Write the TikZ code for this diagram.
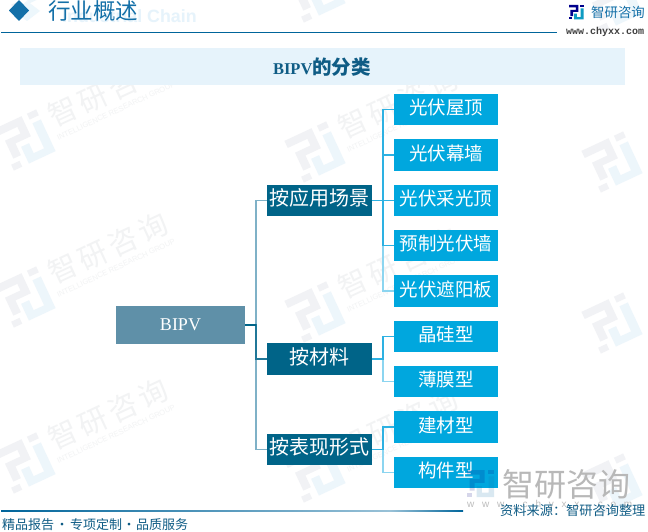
\documentclass[tikz,border=0pt]{standalone}
\usepackage{fontspec}
\setmainfont{Liberation Serif}
\newfontfamily\cjk{Noto Sans CJK SC}
\newfontfamily\lmono{Liberation Mono}
\newfontfamily\lsans{Liberation Sans}
\usetikzlibrary{shadings}
\definecolor{rootc}{HTML}{5F90A8}
\definecolor{midc}{HTML}{006488}
\definecolor{leafc}{HTML}{00A7DE}
\definecolor{bandc}{HTML}{E6F3FB}
\definecolor{linec}{HTML}{00659B}
\definecolor{headc}{HTML}{1470A8}
\definecolor{titlec}{HTML}{0F5C85}
\definecolor{trunkA}{HTML}{7FB1C7}
\definecolor{trunkB}{HTML}{2DB1E2}
\definecolor{trunkC}{HTML}{8CD5F0}
\definecolor{wmg}{HTML}{F1F2F5}
\definecolor{wmb}{HTML}{EDF6FB}
\definecolor{wmt}{HTML}{F2F3F4}
\tikzset{
 x=1pt,y=-1pt,
 rootbox/.style={fill=rootc,text=white,inner sep=0pt,minimum width=129pt,minimum height=38pt,font=\fontsize{18}{18}\selectfont},
 midbox/.style={fill=midc,text=white,inner sep=0pt,minimum width=105pt,minimum height=31.5pt,text height=15pt,text depth=4.4pt,font=\cjk\fontsize{20}{20}\selectfont},
 leafbox/.style={fill=leafc,text=white,inner sep=0pt,minimum width=104pt,minimum height=31.5pt,text height=15pt,text depth=4.6pt,font=\cjk\fontsize{18.5}{18.5}\selectfont},
 rootlink/.style={draw=trunkA,line width=1.6pt},
 rootdark/.style={draw=midc!75!trunkA,line width=1.6pt},
 leaflink/.style={draw=trunkB,line width=1.5pt},
 leaflight/.style={draw=trunkC,line width=1.5pt},
 wmtext/.style={text=wmt,inner sep=0pt,font=\cjk\fontsize{29}{29}\selectfont},
 wmsub/.style={text=wmt,inner sep=0pt,font=\lsans\fontsize{7.6}{7.6}\selectfont},
}
% brand mark drawn in a unit box
\newcommand{\brandmark}[2]{%
 \fill[#1] (0,0)--(.65,0)--(.65,.48)--(.28,.48)--(.28,.76)--(.1,.76)--(.1,.33)--(.47,.33)--(.47,.17)--(0,.17)--cycle;
 \fill[#1] (.78,0) rectangle (1,.14);
 \fill[#1] (0,.86) rectangle (.2,1);
 \fill[#2] (.8,.24)--(1,.24)--(1,1)--(.36,1)--(.36,.6)--(.55,.6)--(.55,.84)--(.8,.84)--cycle;
}
\newcommand{\wlogo}[2]{%
 \begin{scope}[shift={(#1,#2)},rotate=25]
  \begin{scope}[scale=46,shift={(-.5,-.5)}]\brandmark{wmg}{wmb}\end{scope}
 \end{scope}}
\newcommand{\wmark}[2]{%
 \wlogo{#1}{#2}
 \node[wmtext,rotate=25] at (#1+83,#2-49) {\makebox[128pt][s]{智\hfil 研\hfil 咨\hfil 询}};
 \node[wmsub,rotate=25] at (#1+91,#2-29) {INTELLIGENCE RESEARCH GROUP};
}
\begin{document}
\begin{tikzpicture}
\useasboundingbox (0,0) rectangle (648,532);
\fill[white] (0,0) rectangle (648,532);
% watermarks
\wlogo{25}{-20}\wlogo{315}{-8}\wlogo{612}{2}
\wmark{25}{140}\wmark{315}{152}\wlogo{612}{162}
\wmark{25}{297}\wmark{315}{312}\wlogo{612}{323}
\wmark{25}{463}\wmark{315}{472}\wlogo{612}{484}
% header
\fill[bandc!70!white] (27,1)--(40,11)--(27,21)--(14,11)--cycle;
\fill[headc] (19,0)--(29,10.5)--(19,21)--(9,10.5)--cycle;
\node[text=bandc,inner sep=0pt,anchor=west,font=\lsans\bfseries\fontsize{17.8}{17.8}\selectfont] (ghost) at (62,16) {Industrial Chain};
\node[text=headc,inner sep=0pt,anchor=west,font=\cjk\fontsize{22.5}{22.5}\selectfont] (head) at (48,10.5) {行业概述};
\draw[linec,line width=1pt] (1,32.5)--(557,32.5);
\begin{scope}[shift={(569,5)},scale=14.5]\brandmark{blue!55!black}{headc!70!cyan}\end{scope}
\node[text=headc,inner sep=0pt,anchor=west,font=\cjk\fontsize{13.4}{13.4}\selectfont] (brand) at (591,12.5) {智研咨询};
\node[text=black!75,inner sep=0pt,anchor=west,font=\lmono\bfseries\fontsize{10}{10}\selectfont] (web) at (566,32) {www.chyxx.com};
% title band
\fill[bandc] (20,48) rectangle (625,85);
\node[text=titlec,inner sep=0pt,font=\bfseries\fontsize{16.5}{16.5}\selectfont] (title) at (322,67) {BIPV{\cjk\fontsize{19.5}{19.5}\selectfont 的分类}};
% nodes
\node[rootbox] (root) at (180.5,325) {BIPV};
\node[midbox] (m1) at (319.5,200.5) {按应用场景};
\node[midbox] (m2) at (319.5,359) {按材料};
\node[midbox] (m3) at (319.5,449.5) {按表现形式};
\node[leafbox] (a1) at (446,109.5) {光伏屋顶};
\node[leafbox] (a2) at (446,155) {光伏幕墙};
\node[leafbox] (a3) at (446,200.5) {光伏采光顶};
\node[leafbox] (a4) at (446,245.5) {预制光伏墙};
\node[leafbox] (a5) at (446,291) {光伏遮阳板};
\node[leafbox] (b1) at (446,336.5) {晶硅型};
\node[leafbox] (b2) at (446,381.5) {薄膜型};
\node[leafbox] (c1) at (446,427) {建材型};
\node[leafbox] (c2) at (446,472.5) {构件型};
% connectors
\foreach \t in {m1,m3}{\draw[rootlink] (root.east) -- ++(11,0) |- (\t.west);}
\draw[rootdark] (root.east) -- ++(11,0) |- (m2.west);
\draw[midc,line width=1.6pt] (root.east) -- ++(11,0);
\foreach \t in {a5}{\draw[leaflight] (m1.east) -- ++(11,0) |- (\t.west);}
\foreach \t in {a1,a2,a3,a4}{\draw[leaflink] (m1.east) -- ++(11,0) |- (\t.west);}
\draw[leaflight] (m2.east) -- ++(11,0) |- (b2.west);
\draw[leaflink] (m2.east) -- ++(11,0) |- (b1.west);
\draw[leaflight] (m3.east) -- ++(11,0) |- (c2.west);
\draw[leaflink] (m3.east) -- ++(11,0) |- (c1.west);
% footer
\fill[left color=linec,right color=linec!40!white] (1,510) rectangle (390,511.2);
\fill[left color=linec!40!white,right color=linec] (390,510) rectangle (463,511.2);
\node[text=titlec,inner sep=0pt,anchor=west,font=\cjk\fontsize{13}{13}\selectfont] (foot) at (2,525) {精品报告\makebox[16pt]{·}专项定制\makebox[14pt]{·}品质服务};
\begin{scope}[shift={(467,470)},scale=27,opacity=.16]\brandmark{blue!50!black}{headc}\end{scope}
\node[text=black!28,inner sep=0pt,anchor=west,font=\cjk\fontsize{32}{32}\selectfont] (bigw) at (502,484) {智研咨询};
\node[text=black!26,inner sep=0pt,anchor=west,font=\lsans\fontsize{10}{10}\selectfont] (bigu) at (467,505) {\makebox[165pt][s]{w\hfil w\hfil w\hfil .\hfil c\hfil h\hfil y\hfil x\hfil x\hfil .\hfil c\hfil o\hfil m}};
\node[text=titlec,inner sep=0pt,anchor=west,font=\cjk\fontsize{13.2}{13.2}\selectfont] (src) at (500,511) {资料来源：智研咨询整理};
\end{tikzpicture}
\end{document}
